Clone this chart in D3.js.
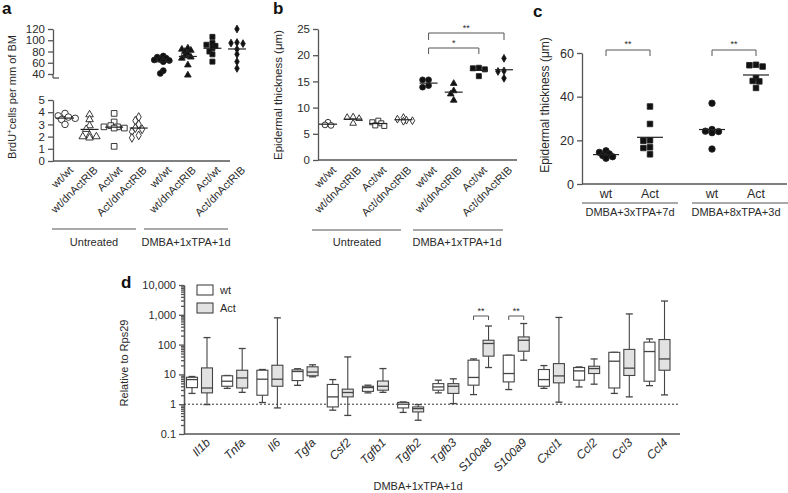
<!DOCTYPE html>
<html><head><meta charset="utf-8">
<script src="https://cdn.jsdelivr.net/npm/d3@7"></script>
<style>
body{margin:0;background:#fff}
svg{font-family:"Liberation Sans",Arial,Helvetica,sans-serif}
text{fill:#2a2a2a}
.axis path,.axis line{stroke:#555;stroke-width:1.3}
.axis text{fill:#2a2a2a}
</style></head><body>
<svg id="chart" width="788" height="493"></svg>
<script>
// ---------------- DATA ----------------
const genotypes = ["wt/wt","wt/dnActRIB","Act/wt","Act/dnActRIB"];
const treatmentsAB = ["Untreated","DMBA+1xTPA+1d"];
// panel a: BrdU+ cells per mm of BM
const aUntreated = [
  [3.9,3.7,3.6,3.5,3.4,3.0],
  [3.8,3.4,2.9,2.6,2.1,2.0,2.0,1.9],
  [3.9,3.2,2.9,2.8,2.7,2.7,2.8,1.2],
  [3.6,3.3,3.0,2.7,2.6,2.4,2.1,1.9]
];
const aDmba = [
  [72,70,68,66,65,64,63,62,46,41],
  [86,84,82,80,76,72,70,68,56,38],
  [106,95,92,90,86,80,75,62],
  [120,96,95,94,84,75,62,50]
];
const aTicksUpper = [40,60,80,100,120];
const aTicksLower = [0,1,2,3,4,5];
// panel b: epidermal thickness (µm)
const bUntreated = [
  [7.2,6.7,6.6],
  [8.1,8.2,7.9,7.0],
  [7.5,7.2,7.0,6.6,6.5],
  [8.1,7.8,7.6,7.5,7.4]
];
const bDmba = [
  [15.3,15.3,14.2,13.9],
  [14.6,13.2,12.6,11.4],
  [17.6,17.5,17.3,16.0],
  [19.4,16.9,17.0,15.6]
];
const bTicks = [0,5,10,15,20,25];
// panel c
const cGenotypes = ["wt","Act"];
const cTreatments = ["DMBA+3xTPA+7d","DMBA+8xTPA+3d"];
const cData = [
  [[15.2,14.5,13.8,13.0,12.5,11.8],[35.5,27.5,20,19.8,16.8,16.5,13.6]],
  [[37,25,24,23.5,24.2,16],[54.6,53.8,54.4,47.2,48.5,47.0,44.0]]
];
const cTicks = [0,20,40,60];
// panel d: [min, q1, median, q3, max] relative to Rps29
const genes = ["Il1b","Tnfa","Il6","Tgfa","Csf2","Tgfb1","Tgfb2","Tgfb3","S100a8","S100a9","Cxcl1","Ccl2","Ccl3","Ccl4"];
const dSeries = ["wt","Act"];
const dWt = [
  [2.3,3.6,6.7,8.0,8.5],
  [3.4,4.0,5.9,9.0,9.2],
  [1.14,2.0,6.9,13.8,14.6],
  [4.3,6.2,12.5,14.2,15.5],
  [0.63,0.81,1.76,4.6,6.7],
  [2.4,2.7,3.6,4.0,4.35],
  [0.53,0.75,1.0,1.15,1.19],
  [2.4,2.95,3.8,4.9,6.4],
  [2.1,4.35,7.9,30,33],
  [3.1,5.6,10.7,44,44],
  [3.4,4.0,6.7,14.6,19.8],
  [3.8,6.4,13.1,17,17.8],
  [2.3,3.5,27.7,55,55],
  [4.2,5.9,58.5,121,155]
];
const dAct = [
  [0.97,2.4,3.5,16.5,172],
  [2.5,3.5,7.6,13.8,74],
  [0.75,4.0,6.9,20.3,790],
  [8.3,9.0,12,18,21],
  [0.42,1.76,2.47,3.2,38.6],
  [2.5,2.95,4.0,6.0,15.7],
  [0.29,0.55,0.71,0.81,0.97],
  [1.05,2.3,4.0,4.9,7.1],
  [17,41,109,140,420],
  [30,60,140,181,510],
  [1.17,5.2,8.9,23,815],
  [4.7,10.7,15.7,18.8,33],
  [1.76,9.2,16.2,69,1070],
  [2.05,13.8,33,148,2900]
];
const dTicks = [0.1,1,10,100,1000,10000];
const dSignificant = ["S100a8","S100a9"];

// ---------------- HELPERS ----------------
const svg = d3.select("#chart");
const shapes = [d3.symbolCircle, d3.symbolTriangle, d3.symbolSquare, d3.symbolDiamond];
const shapeSize = [36, 26, 34, 24];

function swarm(vals, y, r){
  const sorted = vals.map(v=>({v, y:y(v)})).sort((a,b)=>a.y-b.y);
  const placed = [];
  const cands = [0,-1,1,-2,2,-3,3];
  sorted.forEach(p=>{
    for(const c of cands){
      const dx = c*r*1.0;
      if(placed.every(q=>(q.dx-dx)**2+(q.y-p.y)**2 >= (r*1.25)**2)){ p.dx=dx; break; }
    }
    if(p.dx===undefined) p.dx=0;
    placed.push(p);
  });
  return placed;
}

function drawDots(g, vals, cx, y, shapeIdx, filled, r, meanW){
  const pts = swarm(vals, y, r);
  g.selectAll(null).data(pts).join("path")
    .attr("d", d3.symbol().type(shapes[shapeIdx]).size(shapeSize[shapeIdx]*(r/3.5)**2))
    .attr("transform", d=>`translate(${cx+d.dx},${d.y})`)
    .attr("fill", filled? "#111":"#fff")
    .attr("stroke", "#222").attr("stroke-width", 0.9);
  const m = d3.mean(vals);
  g.append("line").attr("x1",cx-meanW).attr("x2",cx+meanW)
    .attr("y1",y(m)).attr("y2",y(m)).attr("stroke","#222").attr("stroke-width",1.2);
}

function rotLabel(g, x, y, txt, italic, size){
  g.append("text").attr("transform",`translate(${x},${y}) rotate(-45)`)
    .attr("text-anchor","end").attr("dy","0.75em")
    .style("font-size",(size||11)+"px").style("font-style", italic?"italic":"normal").text(txt);
}

function line(g,x1,y1,x2,y2,w,col){
  g.append("line").attr("x1",x1).attr("y1",y1).attr("x2",x2).attr("y2",y2)
    .attr("stroke",col||"#555").attr("stroke-width",w||1.3);
}

function bracket(g,x1,x2,y,leg,label,ly){
  g.append("path").attr("d",`M${x1},${y+leg}V${y}H${x2}V${y+leg}`)
    .attr("fill","none").attr("stroke","#555").attr("stroke-width",1);
  g.append("text").attr("x",(x1+x2)/2).attr("y",ly).attr("text-anchor","middle")
    .style("font-size","9px").text(label);
}

function panelLetter(x,y,t){
  svg.append("text").attr("x",x).attr("y",y).style("font-size","17px").style("font-weight","bold").style("fill","#111").text(t);
}
const fmtInt = d3.format("d");

// ---------------- PANEL A ----------------
(function(){
  const g = svg.append("g");
  const keys = treatmentsAB.flatMap(t=>genotypes.map(gt=>t+"|"+gt));
  const x = d3.scalePoint().domain(keys).range([65,237]);
  const yU = d3.scaleLinear().domain([40,120]).range([74,29]);
  const yL = d3.scaleLinear().domain([0,5]).range([161,100]);
  const axU = g.append("g").attr("class","axis").attr("transform","translate(53,0)")
    .call(d3.axisLeft(yU).tickValues(aTicksUpper).tickFormat(fmtInt).tickSize(5).tickSizeOuter(0));
  const axL = g.append("g").attr("class","axis").attr("transform","translate(53,0)")
    .call(d3.axisLeft(yL).tickValues(aTicksLower).tickFormat(fmtInt).tickSize(5).tickSizeOuter(0));
  [axU,axL].forEach(a=>a.selectAll("text").style("font-size","11.5px"));
  line(g,53,74,53,78); line(g,53,78,59,78);
  line(g,53,161,230,161);
  genotypes.forEach((gt,i)=>{
    drawDots(g, aUntreated[i], x(treatmentsAB[0]+"|"+gt), yL, i, false, 3.4, 9);
    drawDots(g, aDmba[i], x(treatmentsAB[1]+"|"+gt), yU, i, true, 3.0, 9);
  });
  keys.forEach(k=>rotLabel(g, x(k)+3, 165, k.split("|")[1], false, 11));
  line(g,52,229,136,229,1.2); line(g,144,229,228,229,1.2);
  g.append("text").attr("x",94).attr("y",246).attr("text-anchor","middle").style("font-size","11px").text(treatmentsAB[0]);
  g.append("text").attr("x",186).attr("y",246).attr("text-anchor","middle").style("font-size","11px").text(treatmentsAB[1]);
  const yl = g.append("text").attr("transform","translate(16,97) rotate(-90)").attr("text-anchor","middle").style("font-size","11px");
  yl.append("tspan").text("BrdU");
  yl.append("tspan").attr("baseline-shift","super").style("font-size","8px").text("+");
  yl.append("tspan").text("cells per mm of BM");
  panelLetter(2,14,"a");
})();

// ---------------- PANEL B ----------------
(function(){
  const g = svg.append("g");
  const keys = treatmentsAB.flatMap(t=>genotypes.map(gt=>t+"|"+gt));
  const x = d3.scalePoint().domain(keys).range([328,504]);
  const y = d3.scaleLinear().domain([0,25]).range([160,29]);
  const ax = g.append("g").attr("class","axis").attr("transform","translate(318,0)")
    .call(d3.axisLeft(y).tickValues(bTicks).tickFormat(fmtInt).tickSize(5).tickSizeOuter(0));
  ax.selectAll("text").style("font-size","11.5px");
  line(g,318,160,517,160);
  genotypes.forEach((gt,i)=>{
    drawDots(g, bUntreated[i], x(treatmentsAB[0]+"|"+gt), y, i, false, 3.0, 9);
    drawDots(g, bDmba[i], x(treatmentsAB[1]+"|"+gt), y, i, true, 3.0, 9);
  });
  keys.forEach(k=>rotLabel(g, x(k)+3, 165, k.split("|")[1], false, 11));
  line(g,312,230,401,230,1.2); line(g,413,230,503,230,1.2);
  g.append("text").attr("x",357).attr("y",246).attr("text-anchor","middle").style("font-size","11px").text(treatmentsAB[0]);
  g.append("text").attr("x",457).attr("y",246).attr("text-anchor","middle").style("font-size","11px").text(treatmentsAB[1]);
  const xa = x(treatmentsAB[1]+"|"+genotypes[0]);
  bracket(g, xa, x(treatmentsAB[1]+"|"+genotypes[3]), 33, 7, "**", 31);
  bracket(g, xa, x(treatmentsAB[1]+"|"+genotypes[2]), 48, 6, "*", 46);
  g.append("text").attr("transform","translate(282,95) rotate(-90)").attr("text-anchor","middle")
    .style("font-size","11.5px").text("Epidermal thickness (\u03bcm)");
  panelLetter(273,14,"b");
})();

// ---------------- PANEL C ----------------
(function(){
  const g = svg.append("g");
  const xo = d3.scaleBand().domain(cTreatments).range([575,787]);
  const xi = d3.scalePoint().domain(cGenotypes).range([-22,22]);
  const y = d3.scaleLinear().domain([0,60]).range([184,53]);
  const ax = g.append("g").attr("class","axis").attr("transform","translate(582,0)")
    .call(d3.axisLeft(y).tickValues(cTicks).tickFormat(fmtInt).tickSize(5).tickSizeOuter(0));
  ax.selectAll("text").style("font-size","12.5px");
  line(g,582,184,787,184);
  cTreatments.forEach((t,ti)=>{
    const c = xo(t)+xo.bandwidth()/2;
    cGenotypes.forEach((gt,gi)=>{
      const cx = c+xi(gt);
      drawDots(g, cData[ti][gi], cx, y, gi===0?0:2, true, 3.3, 13);
      g.append("text").attr("x",cx).attr("y",198).attr("text-anchor","middle").style("font-size","12.5px").text(gt);
    });
    bracket(g, c+xi("wt"), c+xi("Act"), 50, 6, "**", 47);
    g.append("text").attr("x",c+2).attr("y",216).attr("text-anchor","middle").style("font-size","11px").text(t);
  });
  line(g,582,203,678,203,1.2); line(g,692,203,788,203,1.2);
  g.append("text").attr("transform","translate(549,105) rotate(-90)").attr("text-anchor","middle")
    .style("font-size","12px").text("Epidermal thickness (\u03bcm)");
  panelLetter(533,17,"c");
})();

// ---------------- PANEL D ----------------
(function(){
  const g = svg.append("g");
  const x = d3.scalePoint().domain(genes).range([199.5,657]);
  const xs = d3.scalePoint().domain(dSeries).range([-7.5,7.5]);
  const y = d3.scaleLog().domain([0.1,10000]).range([434,285]);
  const minor = [];
  dTicks.slice(0,-1).forEach(t=>{ for(let k=2;k<=9;k++) minor.push(t*k); });
  g.append("g").attr("class","axis").attr("transform","translate(184,0)")
    .call(d3.axisLeft(y).tickValues(minor).tickSize(3).tickSizeOuter(0).tickFormat(""))
    .selectAll("line").attr("stroke-width",1);
  const ax = g.append("g").attr("class","axis").attr("transform","translate(184,0)")
    .call(d3.axisLeft(y).tickValues(dTicks).tickSize(5).tickSizeOuter(0)
      .tickFormat(v=> v<1 ? "0.1" : d3.format(",")(v)));
  ax.selectAll("text").style("font-size","11px");
  line(g,184,434,680,434);
  g.append("line").attr("x1",184).attr("x2",680).attr("y1",y(1)).attr("y2",y(1))
    .attr("stroke","#333").attr("stroke-width",1).attr("stroke-dasharray","2,2");
  const bw = 11, cap = 3.5;
  genes.forEach((gene,i)=>{
    [dWt[i], dAct[i]].forEach((s,si)=>{
      const cx = x(gene)+xs(dSeries[si]);
      const [mn,q1,md,q3,mx] = s;
      line(g,cx,y(mx),cx,y(q3),1.1,"#444");
      line(g,cx,y(q1),cx,y(mn),1.1,"#444");
      line(g,cx-cap,y(mx),cx+cap,y(mx),1.3,"#444");
      line(g,cx-cap,y(mn),cx+cap,y(mn),1.3,"#444");
      g.append("rect").attr("x",cx-bw/2).attr("y",y(q3)).attr("width",bw).attr("height",Math.max(1,y(q1)-y(q3)))
        .attr("fill", si? "#e2e2e2":"#fff").attr("stroke","#444").attr("stroke-width",1.1);
      line(g,cx-bw/2,y(md),cx+bw/2,y(md),1.3,"#444");
    });
    rotLabel(g, x(gene)+5, 437, gene, true, 12);
  });
  dSignificant.forEach(gene=>{
    const a = x(gene)+xs("wt"), b = x(gene)+xs("Act");
    bracket(g, a, b, 316, 4, "**", 314);
  });
  // legend
  dSeries.forEach((s,si)=>{
    g.append("rect").attr("x",197).attr("y",285+si*18).attr("width",16).attr("height",10)
      .attr("fill", si? "#e2e2e2":"#fff").attr("stroke","#444").attr("stroke-width",1.1);
    g.append("text").attr("x",220).attr("y",294+si*18).style("font-size","11px").text(s);
  });
  g.append("text").attr("transform","translate(128,363) rotate(-90)").attr("text-anchor","middle")
    .style("font-size","11px").text("Relative to Rps29");
  g.append("text").attr("x",418).attr("y",490).attr("text-anchor","middle").style("font-size","11px").text("DMBA+1xTPA+1d");
  panelLetter(121,288,"d");
})();
</script>
</body></html>
